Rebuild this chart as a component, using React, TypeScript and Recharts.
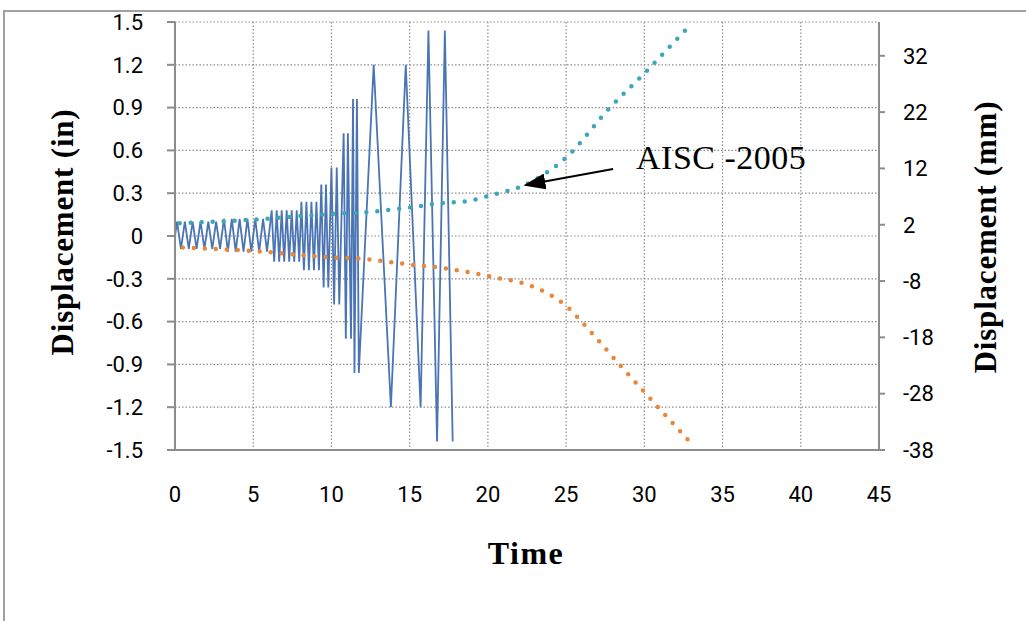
import React from 'react';
import { LineChart, Line, XAxis, YAxis, CartesianGrid, ReferenceLine } from 'recharts';

// Loading history (AISC-2005 protocol)
const blueTime = [
  0, 0.13, 0.38, 0.63, 0.88, 1.13, 1.38, 1.63, 1.88, 2.13, 2.38, 2.63, 2.88,
  3.13, 3.38, 3.63, 3.88, 4.13, 4.38, 4.63, 4.88, 5.13, 5.38, 5.63, 5.88,
  6.18, 6.34, 6.5, 6.66, 6.82, 6.98, 7.14, 7.3, 7.46, 7.62, 7.78, 7.94,
  8.08, 8.24, 8.4, 8.56, 8.72, 8.88, 9.04, 9.2,
  9.35, 9.5, 9.65, 9.8,
  10.0, 10.17, 10.34, 10.5,
  10.78, 10.92, 11.05, 11.25,
  11.38, 11.47, 11.63, 11.75,
  12.7, 13.8, 14.75, 15.7,
  16.2, 16.75, 17.25, 17.75,
];
const blueDisp = [
  0, 0.1, -0.09, 0.1, -0.09, 0.1, -0.09, 0.1, -0.09, 0.1, -0.09, 0.1, -0.09,
  0.12, -0.11, 0.12, -0.11, 0.12, -0.11, 0.12, -0.11, 0.12, -0.11, 0.12, -0.11,
  0.18, -0.18, 0.18, -0.18, 0.18, -0.18, 0.18, -0.18, 0.18, -0.18, 0.18, -0.18,
  0.24, -0.24, 0.24, -0.24, 0.24, -0.24, 0.24, -0.24,
  0.36, -0.36, 0.36, -0.36,
  0.48, -0.48, 0.48, -0.48,
  0.72, -0.72, 0.72, -0.72,
  0.96, -0.96, 0.96, -0.96,
  1.2, -1.2, 1.2, -1.2,
  1.44, -1.44, 1.44, -1.44,
];

// AISC-2005 envelope (upper)
const upperTime = [0.3, 5, 10, 12, 15, 17, 19, 20, 22.4, 25, 27.8, 30, 32.6];
const upperDisp = [0.09, 0.115, 0.155, 0.165, 0.2, 0.23, 0.25, 0.28, 0.36, 0.55, 0.9, 1.14, 1.44];

// AISC-2005 envelope (lower)
const lowerTime = [0.5, 5, 10, 12, 15, 17.2, 20.2, 23, 24.9, 26.4, 28.4, 29.8, 32.8];
const lowerDisp = [-0.08, -0.105, -0.15, -0.16, -0.2, -0.226, -0.285, -0.36, -0.48, -0.65, -0.9, -1.07, -1.43];

const xTicks = [0, 5, 10, 15, 20, 25, 30, 35, 40, 45];
const inTicks = [-1.5, -1.2, -0.9, -0.6, -0.3, 0, 0.3, 0.6, 0.9, 1.2, 1.5];
const mmTicks = [-38, -28, -18, -8, 2, 12, 22, 32];
const mmRange = [-38, 38];

const arrowFrom = { x: 28.0, y: 0.47 };
const arrowTo = { x: 22.4, y: 0.357 };

const blueData = blueTime.map((t, i) => ({ t, v: blueDisp[i] }));
const upperData = upperTime.map((t, i) => ({ t, v: upperDisp[i] }));
const lowerData = lowerTime.map((t, i) => ({ t, v: lowerDisp[i] }));
const mmData = mmRange.map((v) => ({ t: 0, v }));

const tickFont = { fontFamily: 'Roboto, "Liberation Sans", sans-serif', fontSize: 22, fill: '#000' };
const titleFont: React.CSSProperties = {
  position: 'absolute',
  fontFamily: '"Liberation Serif", "Times New Roman", serif',
  fontWeight: 'bold',
  fontSize: 31,
  letterSpacing: 0.8,
  color: '#000',
  whiteSpace: 'nowrap',
  lineHeight: 1,
};

export default function App() {
  return (
    <div style={{ position: 'absolute', left: 0, top: 0, width: 1026, height: 621, background: '#fff', overflow: 'hidden' }}>
      <svg width={0} height={0} style={{ position: 'absolute' }}>
        <defs>
          <marker id="arrowHead" markerUnits="userSpaceOnUse" markerWidth={22} markerHeight={16} refX={20} refY={8} orient="auto">
            <path d="M0,0 L22,8 L0,16 z" fill="#000" />
          </marker>
        </defs>
      </svg>
      <div style={{ position: 'absolute', left: 3, top: 10, width: 1100, height: 700, borderLeft: '2px solid #a0a0a0', borderTop: '2px solid #a0a0a0' }} />
      <LineChart width={1026} height={621} margin={{ top: 22, right: 87, bottom: 111, left: 115 }} style={{ position: 'absolute', left: 0, top: 0 }}>
        <CartesianGrid yAxisId="left" stroke="#8c8c8c" strokeDasharray="1.5 2" strokeWidth={1.2} />
        <XAxis
          dataKey="t"
          type="number"
          domain={[0, 45]}
          ticks={xTicks}
          allowDataOverflow
          tickLine={false}
          tickSize={0}
          tickMargin={36}
          height={60}
          axisLine={{ stroke: '#8c8c8c', strokeWidth: 2 }}
          tick={tickFont}
        />
        <YAxis
          yAxisId="left"
          type="number"
          domain={[-1.5, 1.5]}
          ticks={inTicks}
          width={60}
          tickSize={8}
          tickMargin={24}
          tickLine={{ stroke: '#8c8c8c', strokeWidth: 2 }}
          axisLine={{ stroke: '#8c8c8c', strokeWidth: 2 }}
          tick={tickFont}
          tickFormatter={(v: number) => String(v)}
        />
        <YAxis
          yAxisId="right"
          orientation="right"
          type="number"
          domain={[-38, 38]}
          ticks={mmTicks}
          width={60}
          tickSize={6}
          tickMargin={18}
          tickLine={{ stroke: '#8c8c8c', strokeWidth: 2 }}
          axisLine={{ stroke: '#8c8c8c', strokeWidth: 2 }}
          tick={{ ...tickFont, textAnchor: 'start' }}
        />
        <Line yAxisId="right" data={mmData} dataKey="v" stroke="none" strokeWidth={0} dot={false} activeDot={false} isAnimationActive={false} />
        <Line yAxisId="left" data={blueData} dataKey="v" type="linear" stroke="#4a74b4" strokeWidth={1.8} dot={false} isAnimationActive={false} />
        <Line yAxisId="left" data={upperData} dataKey="v" type="monotone" stroke="#3ea6ba" strokeWidth={4.5} strokeDasharray="0 11" strokeLinecap="round" dot={false} isAnimationActive={false} />
        <Line yAxisId="left" data={lowerData} dataKey="v" type="monotone" stroke="#e8873b" strokeWidth={4.5} strokeDasharray="0 11" strokeLinecap="round" dot={false} isAnimationActive={false} />
        <ReferenceLine
          yAxisId="left"
          segment={[arrowFrom, arrowTo]}
          shape={(p: any) => (
            <line x1={p.x1} y1={p.y1} x2={p.x2} y2={p.y2} stroke="#000" strokeWidth={2} markerEnd="url(#arrowHead)" />
          )}
        />
      </LineChart>
      <div style={{ ...titleFont, left: 62, top: 232, transform: 'translate(-50%, -50%) rotate(-90deg)' }}>Displacement (in)</div>
      <div style={{ ...titleFont, left: 985, top: 237, transform: 'translate(-50%, -50%) rotate(-90deg)' }}>Displacement (mm)</div>
      <div style={{ ...titleFont, fontSize: 32, letterSpacing: 1.5, left: 526, top: 553, transform: 'translate(-50%, -50%)' }}>Time</div>
      <div style={{ ...titleFont, fontWeight: 'normal', fontSize: 34, letterSpacing: 0.5, left: 636, top: 141 }}>AISC -2005</div>
    </div>
  );
}
